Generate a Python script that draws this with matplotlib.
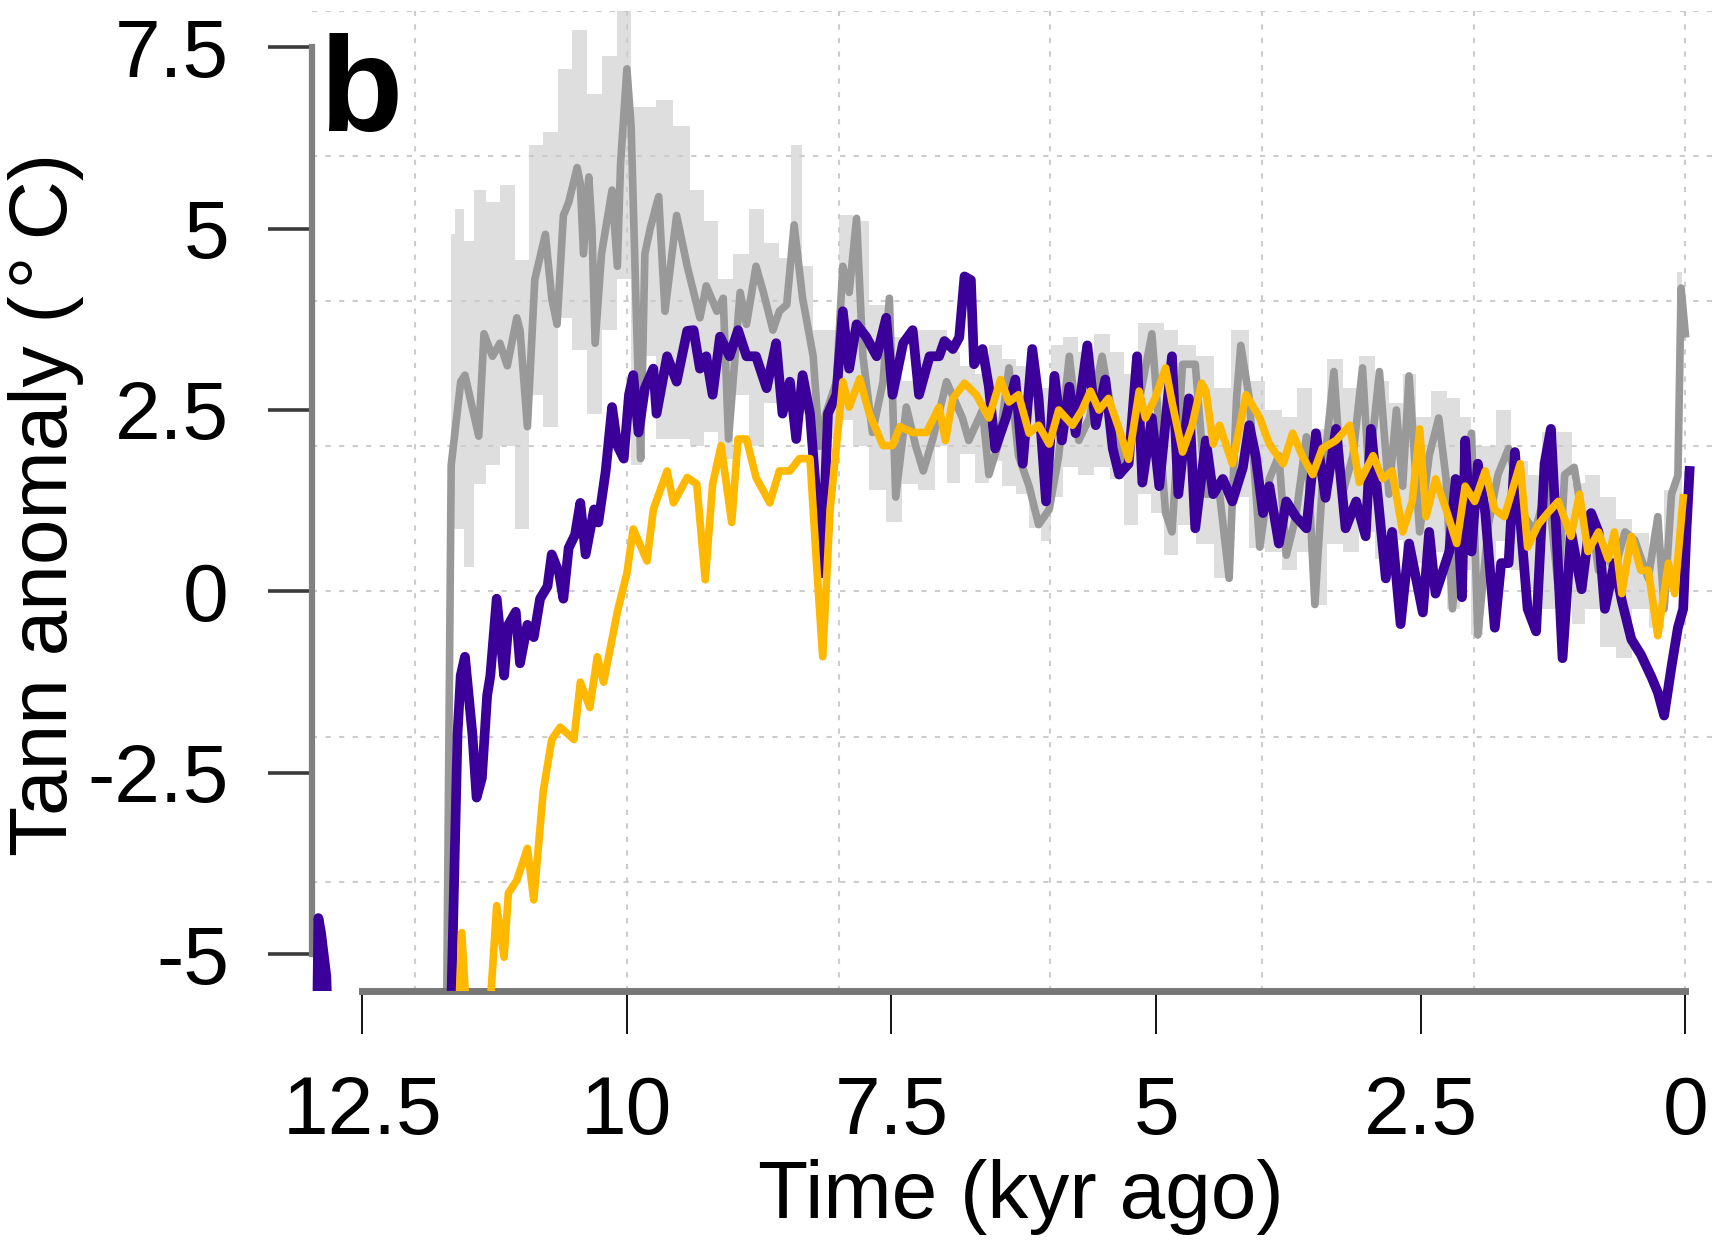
import matplotlib
matplotlib.use("Agg")
import matplotlib.pyplot as plt

plt.rcParams['font.family'] = ['Liberation Sans', 'DejaVu Sans']

# tick positions / labels
xtick_vals = [12.5, 10, 7.5, 5, 2.5, 0]
xtick_labels = ["12.5", "10", "7.5", "5", "2.5", "0"]
ytick_vals = [-5, -2.5, 0, 2.5, 5, 7.5]
ytick_labels = ["-5", "-2.5", "0", "2.5", "5", "7.5"]
grid_x = [12, 10, 8, 6, 4, 2, 0]
grid_y = [-4, -2, 0, 2, 4, 6, 8]

# grey reconstruction (line)
gray_x = [11.71, 11.66, 11.57, 11.53, 11.40, 11.35, 11.27, 11.20, 11.13, 11.04,
          11.01, 10.94, 10.87, 10.77, 10.71, 10.66, 10.60, 10.55, 10.47, 10.44,
          10.41, 10.36, 10.33, 10.30, 10.24, 10.14, 10.09, 10.06, 10.00, 9.96,
          9.91, 9.87, 9.83, 9.78, 9.70, 9.64, 9.53, 9.43, 9.31, 9.25,
          9.15, 9.09, 9.04, 8.93, 8.87, 8.78, 8.71, 8.62, 8.56, 8.49,
          8.42, 8.34, 8.24, 8.18, 8.12, 8.02, 7.96, 7.90, 7.83, 7.77,
          7.68, 7.58, 7.52, 7.46, 7.36, 7.27, 7.20, 7.11, 6.98, 6.83,
          6.77, 6.64, 6.58, 6.48, 6.39, 6.30, 6.20, 6.11, 6.01, 5.92,
          5.82, 5.73, 5.63, 5.51, 5.41, 5.29, 5.19, 5.04, 4.91, 4.85,
          4.75, 4.63, 4.53, 4.40, 4.31, 4.24, 4.20, 4.12, 4.02, 3.93,
          3.84, 3.77, 3.68, 3.58, 3.50, 3.43, 3.32, 3.24, 3.14, 3.05,
          2.99, 2.89, 2.80, 2.73, 2.67, 2.61, 2.51, 2.42, 2.33, 2.26,
          2.20, 2.11, 2.02, 1.96, 1.86, 1.77, 1.67, 1.61, 1.52, 1.42,
          1.30, 1.20, 1.14, 1.05, 0.98, 0.89, 0.82, 0.76, 0.67, 0.57,
          0.48, 0.35, 0.26, 0.20, 0.13, 0.07, 0.04, 0.00]
gray_y = [-7.0, 1.74, 2.89, 2.98, 2.14, 3.55, 3.24, 3.42, 3.11, 3.77,
          3.60, 2.27, 4.30, 4.92, 4.04, 3.68, 5.18, 5.36, 5.84, 5.62,
          4.65, 5.71, 5.00, 3.42, 4.65, 5.53, 4.48, 5.89, 7.20, 6.41,
          3.77, 1.83, 4.65, 5.00, 5.44, 3.86, 5.18, 4.48, 3.77, 4.21,
          3.86, 4.04, 2.10, 4.12, 3.68, 4.48, 4.12, 3.60, 3.86, 3.95,
          5.05, 4.04, 3.24, 2.00, 2.45, 2.89, 4.48, 4.12, 5.14, 3.24,
          2.19, 2.89, 4.04, 1.30, 2.54, 2.00, 1.66, 2.10, 2.89, 2.39,
          2.08, 2.50, 1.61, 2.08, 3.08, 1.87, 1.45, 0.92, 1.13, 1.87,
          3.24, 2.08, 2.39, 3.24, 2.39, 1.71, 2.39, 3.55, 1.08, 0.82,
          3.13, 3.13, 1.34, 1.34, 0.18, 2.66, 3.39, 2.66, 0.61, 1.55,
          1.87, 0.50, 1.03, 2.13, -0.18, 1.45, 3.03, 1.34, 1.87, 3.08,
          1.61, 3.03, 1.34, 2.50, 1.45, 2.97, 0.82, 1.87, 2.39, 1.55,
          -0.24, 1.08, 2.18, -0.60, 0.92, 1.61, 1.97, 1.61, 1.03, 0.82,
          1.50, 0.03, 1.61, 1.71, 1.08, 1.03, 0.29, 0.55, 0.29, 0.82,
          0.71, 0.18, 1.03, -0.24, 1.34, 1.60, 4.18, 3.55]

# grey uncertainty band
band_x = [11.66, 11.58, 11.49, 11.39, 11.28, 11.12, 10.99, 10.86, 10.72, 10.58,
          10.46, 10.30, 10.17, 10.02, 9.91, 9.80, 9.65, 9.47, 9.34, 9.21,
          9.07, 8.92, 8.78, 8.63, 8.49, 8.40, 8.30, 8.19, 8.07, 7.93,
          7.79, 7.63, 7.48, 7.33, 7.16, 7.02, 6.93, 6.78, 6.64, 6.52,
          6.39, 6.26, 6.14, 6.04, 5.94, 5.81, 5.66, 5.51, 5.37, 5.24,
          5.11, 4.99, 4.86, 4.72, 4.53, 4.38, 4.20, 4.05, 3.89, 3.74,
          3.59, 3.46, 3.31, 3.16, 3.00, 2.86, 2.73, 2.61, 2.48, 2.33,
          2.18, 2.07, 1.98, 1.85, 1.72, 1.57, 1.41, 1.30, 1.14, 1.01,
          0.88, 0.73, 0.58, 0.42, 0.27, 0.13, 0.03]
band_lo = [0.86, 0.86, 0.33, 1.48, 1.74, 2.00, 0.86, 2.71, 2.27, 3.77,
           3.33, 2.45, 3.60, 4.30, 1.74, 3.24, 2.10, 2.10, 2.00, 2.20,
           1.83, 2.71, 2.00, 2.60, 2.89, 2.45, 2.45, 1.20, 2.10, 2.36,
           2.00, 1.40, 0.95, 1.48, 1.40, 2.00, 1.50, 1.90, 1.50, 1.80,
           1.45, 1.34, 0.87, 0.70, 1.30, 1.71, 1.60, 1.71, 1.55, 0.92,
           1.34, 1.08, 0.50, 0.92, 0.66, 0.18, 1.30, 0.60, 0.55, 0.29,
           0.55, -0.18, 0.66, 0.55, 0.82, 0.45, 0.71, 0.29, 0.39, 0.55,
           -0.24, 0.29, -0.60, 0.29, 0.70, 0.29, 0.03, -0.24, 0.29, -0.45,
           -0.24, -0.76, -0.92, -0.24, -0.50, 0.03, 0.80]
band_hi = [4.92, 5.27, 4.83, 5.53, 5.36, 5.60, 4.56, 6.15, 6.33, 7.20,
           7.74, 6.85, 7.38, 8.00, 6.68, 6.68, 6.77, 6.41, 5.53, 5.10,
           4.30, 4.65, 5.27, 4.80, 4.60, 6.15, 4.48, 3.60, 3.60, 5.18,
           5.10, 3.95, 3.50, 2.90, 3.60, 3.60, 3.30, 3.10, 3.00, 3.40,
           3.20, 3.10, 2.90, 2.80, 3.40, 3.50, 3.30, 3.55, 3.30, 3.00,
           3.70, 3.70, 3.60, 3.40, 3.24, 2.80, 3.60, 2.90, 2.50, 2.40,
           2.80, 2.24, 3.20, 2.80, 3.24, 2.90, 2.60, 3.00, 2.40, 2.76,
           2.66, 2.40, 2.00, 2.00, 2.50, 1.80, 1.60, 2.20, 2.20, 1.50,
           1.60, 1.30, 1.00, 0.80, 0.60, 1.40, 4.40]

# purple simulation
purple_x = [12.935, 12.915, 12.89, 12.84, 12.80, 11.68, 11.60, 11.57, 11.53, 11.46, 11.42,
            11.37, 11.32, 11.29, 11.23, 11.16, 11.12, 11.05, 11.01, 10.94, 10.88,
            10.82, 10.75, 10.71, 10.64, 10.60, 10.55, 10.49, 10.44, 10.39, 10.31,
            10.27, 10.20, 10.14, 10.09, 10.03, 9.98, 9.94, 9.89, 9.83, 9.75,
            9.72, 9.62, 9.53, 9.43, 9.37, 9.31, 9.25, 9.19, 9.12, 9.03,
            8.95, 8.87, 8.78, 8.68, 8.59, 8.53, 8.46, 8.40, 8.34, 8.27,
            8.21, 8.16, 8.10, 8.02, 7.96, 7.90, 7.83, 7.74, 7.64, 7.55,
            7.49, 7.39, 7.30, 7.24, 7.14, 7.05, 7.00, 6.92, 6.86, 6.81,
            6.75, 6.72, 6.64, 6.58, 6.52, 6.42, 6.33, 6.26, 6.17, 6.11,
            6.04, 5.96, 5.89, 5.82, 5.76, 5.65, 5.57, 5.48, 5.41, 5.35,
            5.26, 5.18, 5.13, 5.04, 4.97, 4.85, 4.79, 4.69, 4.63, 4.53,
            4.46, 4.37, 4.28, 4.18, 4.12, 4.06, 3.99, 3.93, 3.84, 3.77,
            3.68, 3.58, 3.49, 3.40, 3.30, 3.21, 3.11, 3.02, 2.97, 2.89,
            2.83, 2.77, 2.69, 2.61, 2.48, 2.42, 2.36, 2.23, 2.17, 2.11,
            2.08, 2.02, 1.96, 1.89, 1.80, 1.74, 1.67, 1.61, 1.55, 1.49,
            1.41, 1.33, 1.27, 1.20, 1.16, 1.08, 0.98, 0.89, 0.82, 0.76,
            0.67, 0.60, 0.51, 0.42, 0.32, 0.26, 0.20, 0.13, 0.07, 0.02,
            -0.01, -0.04]
purple_y = [-7.0, -4.5, -4.7, -5.3, -7.0, -7.0, -1.96, -1.16, -0.90, -1.96, -2.84,
            -2.57, -1.43, -1.16, -0.10, -1.16, -0.46, -0.28, -0.99, -0.46, -0.63,
            -0.10, 0.07, 0.51, 0.25, -0.10, 0.60, 0.78, 1.22, 0.51, 1.13,
            0.95, 1.66, 2.54, 2.01, 1.83, 2.71, 2.98, 2.19, 2.80, 3.07,
            2.45, 3.24, 2.89, 3.59, 3.60, 3.07, 3.24, 2.71, 3.51, 3.24,
            3.60, 3.24, 3.24, 2.80, 3.42, 2.45, 2.89, 2.10, 2.98, 2.45,
            1.30, 0.25, 2.45, 2.71, 3.86, 3.07, 3.68, 3.51, 3.24, 3.77,
            2.71, 3.42, 3.60, 2.71, 3.24, 3.24, 3.45, 3.34, 3.50, 4.34,
            4.29, 3.13, 3.34, 2.82, 1.97, 2.39, 2.92, 1.76, 3.34, 2.66,
            1.24, 2.97, 2.08, 2.82, 2.18, 3.39, 2.29, 2.92, 1.97, 1.61,
            1.76, 3.24, 1.50, 2.39, 1.45, 3.24, 1.34, 2.66, 0.87, 2.08,
            1.34, 1.55, 1.24, 1.71, 2.29, 1.87, 1.08, 1.45, 0.66, 1.24,
            1.03, 0.87, 2.18, 1.29, 2.24, 0.87, 1.24, 0.76, 2.24, 1.08,
            0.18, 0.82, -0.45, 0.66, -0.29, 0.82, -0.03, 0.55, 1.55, -0.08,
            2.08, 0.55, 1.76, 1.08, -0.50, 0.39, 0.39, 1.92, 0.82, -0.24,
            -0.55, 1.76, 2.24, 0.29, -0.92, 0.82, 0.03, 1.08, 0.82, -0.24,
            0.39, -0.13, -0.66, -0.87, -1.18, -1.39, -1.71, -1.03, -0.50, -0.24,
            0.82, 1.66]

# orange simulation
orange_x = [11.62, 11.56, 11.47, 11.35, 11.23, 11.16, 11.12, 11.04, 10.94, 10.88,
            10.79, 10.71, 10.63, 10.50, 10.44, 10.35, 10.28, 10.22, 10.09, 10.00,
            9.94, 9.81, 9.75, 9.62, 9.56, 9.43, 9.34, 9.26, 9.19, 9.11,
            9.01, 8.95, 8.87, 8.78, 8.65, 8.56, 8.46, 8.37, 8.27, 8.21,
            8.15, 8.08, 8.02, 7.96, 7.90, 7.80, 7.71, 7.58, 7.49, 7.42,
            7.30, 7.17, 7.05, 6.99, 6.92, 6.81, 6.70, 6.58, 6.47, 6.39,
            6.30, 6.20, 6.11, 6.01, 5.92, 5.79, 5.70, 5.62, 5.54, 5.45,
            5.35, 5.26, 5.16, 5.10, 5.01, 4.91, 4.85, 4.75, 4.66, 4.57,
            4.53, 4.46, 4.40, 4.28, 4.15, 4.02, 3.93, 3.80, 3.71, 3.62,
            3.52, 3.43, 3.30, 3.17, 3.08, 2.95, 2.86, 2.77, 2.67, 2.58,
            2.51, 2.45, 2.36, 2.26, 2.16, 2.08, 1.99, 1.89, 1.80, 1.71,
            1.56, 1.49, 1.39, 1.30, 1.20, 1.08, 1.00, 0.92, 0.82, 0.73,
            0.67, 0.60, 0.51, 0.42, 0.35, 0.26, 0.16, 0.10, 0.02]
orange_y = [-7.0, -4.70, -7.0, -7.0, -4.33, -5.04, -4.16, -3.98, -3.54, -4.25,
            -2.75, -2.04, -1.87, -2.04, -1.25, -1.60, -0.90, -1.25, -0.28, 0.25,
            0.86, 0.42, 1.13, 1.66, 1.22, 1.57, 1.48, 0.16, 1.48, 2.01,
            0.95, 2.10, 2.10, 1.57, 1.22, 1.66, 1.66, 1.83, 1.83, 0.42,
            -0.90, 1.13, 2.01, 2.89, 2.54, 2.93, 2.45, 2.01, 2.01, 2.27,
            2.19, 2.19, 2.54, 2.08, 2.66, 2.87, 2.71, 2.39, 2.92, 2.61,
            2.71, 2.18, 2.29, 2.03, 2.50, 2.29, 2.50, 2.76, 2.50, 2.66,
            2.24, 1.82, 2.76, 2.39, 2.66, 3.08, 2.61, 1.92, 2.29, 2.87,
            2.76, 2.03, 2.29, 1.76, 2.71, 2.39, 2.03, 1.76, 2.18, 1.87,
            1.61, 1.97, 2.08, 2.29, 1.50, 1.87, 1.55, 1.66, 0.82, 1.24,
            2.24, 1.03, 1.55, 1.13, 0.66, 1.45, 1.24, 1.66, 1.13, 1.03,
            1.76, 0.61, 0.92, 1.08, 1.24, 0.76, 1.34, 0.55, 0.82, 0.45,
            0.82, -0.03, 0.76, 0.29, 0.29, -0.61, 0.39, -0.03, 1.29]

fig = plt.figure(figsize=(17.16, 12.4), dpi=100)
# plot region placed like the R figure (right side is cut off in the original)
ax = fig.add_axes([0.18176, 0.2011, 0.8312, 0.7902])
ax.set_xlim(12.976, -0.5)
ax.set_ylim(-5.5, 8)

# dotted grid
for g in grid_x:
    ax.axvline(g, color='#CCCCCC', lw=1.5, ls=(0, (2.5, 4)), zorder=1)
for g in grid_y:
    ax.axhline(g, color='#CCCCCC', lw=1.5, ls=(0, (2.5, 4)), zorder=1)

ax.fill_between(band_x, band_lo, band_hi, step='mid', color='#DEDEDE', lw=0, zorder=0.5)
ax.plot(gray_x, gray_y, color='#999999', lw=5.5, zorder=2)
ax.plot(purple_x, purple_y, color='#3B0099', lw=7, zorder=3)
ax.plot(orange_x, orange_y, color='#FFB800', lw=5.5, zorder=4)

# R style axes
ax.spines['top'].set_visible(False)
ax.spines['right'].set_visible(False)
ax.spines['left'].set_bounds(-5, 7.5)
ax.spines['left'].set_color('#808080')
ax.spines['left'].set_linewidth(4.5)
ax.spines['bottom'].set_bounds(0, 12.5)
ax.spines['bottom'].set_color('#777777')
ax.spines['bottom'].set_linewidth(5)

ax.set_xticks(xtick_vals)
ax.set_xticklabels(xtick_labels)
ax.set_yticks(ytick_vals)
ax.set_yticklabels(ytick_labels)
ax.tick_params(axis='y', direction='out', length=31.7, width=2.6, color='#3A3A3A',
               pad=28, labelsize=59)
ax.tick_params(axis='x', direction='out', length=31, width=1.3, color='black',
               pad=30, labelsize=59)

fig.text(0.027, 0.5935, "Tann anomaly (\u200a°\u2009C)", rotation=90, ha='center', va='center', fontsize=59)
fig.text(0.595, 0.0177, "Time (kyr ago)", ha='center', va='baseline', fontsize=59)
fig.text(0.186, 0.8944, "b", fontsize=98, fontweight='bold', ha='left', va='baseline')

fig.savefig('out.png', dpi=100)
